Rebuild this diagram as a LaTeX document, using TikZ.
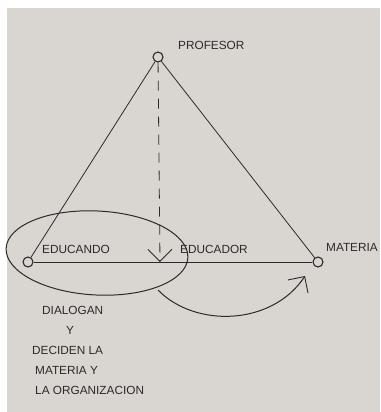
\documentclass[tikz,border=0pt]{standalone}
\usepackage{fontspec}
\setmainfont{Liberation Sans}
\usetikzlibrary{arrows.meta}
\definecolor{paper}{HTML}{D9D5D1}
\definecolor{ink}{HTML}{2C2A28}
\begin{document}
\begin{tikzpicture}[x=1pt,y=-1pt,
  pt/.style={circle,draw=ink,line width=1.1pt,minimum size=10pt,inner sep=0pt},
  lbl/.style={text=ink,font=\fontsize{11.8}{13}\selectfont,inner sep=0pt},
  ln/.style={draw=ink,line width=0.8pt},
  barb/.style={-{Straight Barb[length=12pt,width=24pt,line width=0.9pt]}}]
\useasboundingbox (0,0) rectangle (380,412);
\fill[white] (0,0) rectangle (380,412);
\fill[paper] (7,8) rectangle (380,412);
\begin{scope}
\clip (0,0) rectangle (380,412);
\node[pt] (prof) at (158,57) {};
\node[pt] (educando) at (28,262) {};
\node[pt] (materia) at (318,262) {};
\coordinate (educador) at (160,262);
\coordinate (cstart) at (158,290);
\coordinate (cend) at (305,276);

\draw[ln] (prof) -- (educando);
\draw[ln] (prof) -- (materia);
\draw[ln] (educando) -- (materia);
\draw[ln,dashed,dash pattern=on 10pt off 8pt,barb] (prof) -- (educador);
\draw[ln,line width=1pt] (97,253) ellipse [x radius=91, y radius=42, rotate=-3];
\draw[ln,line width=1pt,barb] (cstart) .. controls (195,328) and (272,326) .. (cend);

\node[lbl,anchor=west] (lprof) at (178,45) {PROFESOR};
\node[lbl,anchor=west] (ledo) at (42,249) {EDUCANDO};
\node[lbl,anchor=west] (ledr) at (180,249) {EDUCADOR};
\node[lbl,anchor=west] (lmat) at (326,247) {MATERIA};
\node[lbl,anchor=west] (t1) at (42,310) {DIALOGAN};
\node[lbl,anchor=west] (t2) at (66,330) {Y};
\node[lbl,anchor=west] (t3) at (32,350) {DECIDEN LA};
\node[lbl,anchor=west] (t4) at (35,370) {MATERIA Y};
\node[lbl,anchor=west] (t5) at (35,390) {LA ORGANIZACION};
\end{scope}
\end{tikzpicture}
\end{document}
